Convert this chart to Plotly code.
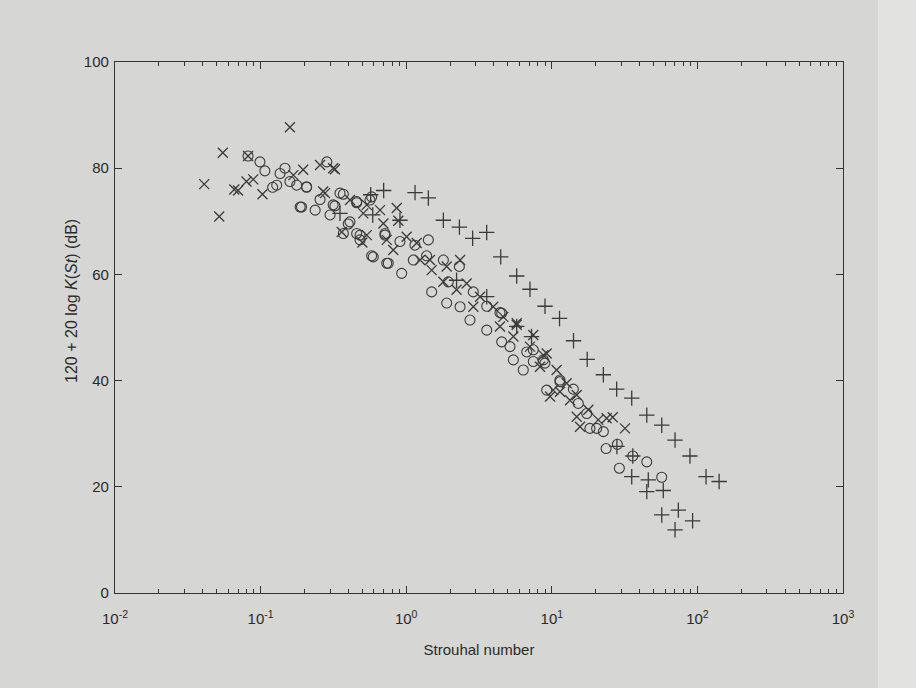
import plotly.graph_objects as go

# ---- data (Strouhal number, level in dB) ----
cross_st = [0.041, 0.055, 0.052, 0.066, 0.070, 0.080, 0.089, 0.103, 0.082, 0.159,
            0.196, 0.256, 0.324, 0.168, 0.269, 0.507, 0.50, 0.315, 0.277, 0.411,
            0.536, 0.661, 0.861, 0.883, 0.697, 0.361, 0.536, 0.735, 1.007, 1.18,
            0.815, 1.245, 1.455, 1.897, 2.344, 1.496, 1.80, 2.218, 2.60, 3.214,
            2.89, 3.963, 4.645, 5.74, 4.406, 5.445, 7.46, 7.08, 9.226, 8.299,
            10.79, 12.65, 10.23, 14.83, 5.74, 8.75, 9.73, 11.38, 13.34, 15.63,
            17.82, 20.84, 23.82, 14.83, 26.2, 31.8]
cross_db = [77.0, 82.9, 70.9, 76.0, 75.8, 77.5, 77.9, 75.1, 82.3, 87.7,
            79.7, 80.6, 79.8, 78.7, 75.6, 71.5, 66.0, 80.0, 75.3, 74.0,
            73.1, 72.1, 72.5, 70.1, 69.6, 68.0, 67.4, 66.5, 67.1, 65.9,
            64.6, 62.7, 62.7, 61.5, 62.7, 60.8, 58.6, 57.1, 58.3, 55.8,
            53.9, 53.9, 52.0, 50.8, 50.2, 48.3, 48.6, 46.4, 45.1, 42.6,
            42.0, 39.5, 38.2, 37.3, 50.5, 44.8, 37.0, 37.9, 36.3, 31.3,
            34.5, 32.6, 32.9, 33.2, 33.1, 31.0]

circle_st = [0.082, 0.099, 0.107, 0.121, 0.136, 0.147, 0.129, 0.159, 0.177, 0.207,
             0.187, 0.285, 0.256, 0.324, 0.30, 0.37, 0.457, 0.579, 0.40, 0.37,
             0.457, 0.715, 0.594, 0.735, 0.482, 0.191, 0.237, 0.207, 0.351, 0.315,
             0.457, 0.411, 0.564, 0.482, 0.579, 0.715, 0.753, 0.906, 1.148, 1.419,
             0.931, 1.119, 1.38, 1.80, 2.317, 1.496, 1.897, 1.945, 2.89, 2.344,
             3.573, 2.742, 4.406, 3.573, 4.529, 5.445, 6.368, 7.464, 8.974, 9.226,
             14.06, 11.38, 4.529, 5.164, 6.73, 7.464, 8.75, 11.38, 15.2, 17.38,
             20.32, 22.6, 18.28, 23.6, 28.2, 29.1, 36.0, 44.9, 56.9]
circle_db = [82.3, 81.2, 79.5, 76.4, 79.0, 80.0, 76.8, 77.5, 76.8, 76.4,
             72.7, 81.2, 74.1, 72.9, 71.2, 75.1, 73.5, 74.6, 69.5, 67.7,
             67.7, 67.4, 63.3, 62.1, 66.5, 72.7, 72.1, 76.5, 75.3, 73.1,
             73.7, 69.9, 74.0, 67.4, 63.5, 67.7, 62.1, 66.2, 65.5, 66.5,
             60.2, 62.7, 63.5, 62.7, 61.5, 56.7, 54.6, 58.6, 56.7, 53.9,
             54.0, 51.4, 52.8, 49.5, 47.3, 43.9, 42.0, 45.8, 43.3, 38.2,
             38.4, 40.1, 52.7, 46.4, 45.4, 43.6, 43.9, 39.8, 35.7, 33.8,
             31.0, 30.4, 31.0, 27.2, 28.0, 23.5, 25.8, 24.7, 21.8]

plus_st = [0.57, 0.70, 0.589, 0.351, 1.15, 1.42, 1.80, 2.32, 2.86, 3.57,
           4.46, 5.74, 7.08, 8.98, 11.3, 14.1, 17.5, 22.6, 27.9, 35.4,
           44.9, 56.9, 70.2, 88.9, 114.6, 141.0, 0.906, 2.218, 3.573, 5.74,
           7.26, 28.0, 36.0, 35.4, 46.0, 44.9, 58.3, 74.0, 56.9, 92.7, 70.2]
plus_db = [75.0, 75.8, 71.2, 71.5, 75.4, 74.4, 70.2, 68.9, 66.8, 67.9,
           63.3, 59.7, 57.2, 54.0, 51.7, 47.5, 44.0, 41.1, 38.4, 36.7,
           33.5, 31.6, 28.8, 25.8, 21.9, 21.0, 70.2, 58.9, 55.8, 50.2,
           48.3, 27.6, 25.8, 21.9, 21.3, 19.1, 19.3, 15.6, 14.7, 13.6, 11.9]

x_tickvals = [0.01, 0.1, 1, 10, 100, 1000]
x_ticktext = ["10<sup>-2</sup>", "10<sup>-1</sup>", "10<sup>0</sup>",
              "10<sup>1</sup>", "10<sup>2</sup>", "10<sup>3</sup>"]
y_tickvals = [0, 20, 40, 60, 80, 100]

ink = "#3a3a3a"
paper = "#d6d6d4"

fig = go.Figure()
fig.add_trace(go.Scatter(x=cross_st, y=cross_db, mode="markers", name="x",
                         marker=dict(symbol="x-thin", size=10, color=ink,
                                     line=dict(width=1.3, color=ink))))
fig.add_trace(go.Scatter(x=circle_st, y=circle_db, mode="markers", name="o",
                         marker=dict(symbol="circle-open", size=10, color=ink,
                                     line=dict(width=1.1, color=ink))))
fig.add_trace(go.Scatter(x=plus_st, y=plus_db, mode="markers", name="+",
                         marker=dict(symbol="cross-thin", size=11, color=ink,
                                     line=dict(width=1.3, color=ink))))

fig.update_layout(
    width=916, height=688,
    margin=dict(l=115, r=73, t=62, b=95),
    paper_bgcolor=paper, plot_bgcolor=paper,
    showlegend=False,
    font=dict(family="Liberation Sans, Arial, sans-serif", size=15, color="#2a2a2a"),
    shapes=[dict(type="rect", xref="paper", yref="paper",
                 x0=(878 - 115) / 728, x1=(916 - 115) / 728, y0=-95 / 531, y1=(688 - 95) / 531,
                 fillcolor="#e2e2e0", line=dict(width=0), layer="below")],
    annotations=[dict(text="120 + 20 log <i>K</i>(<i>St</i>) (dB)", textangle=-90,
                      xref="paper", yref="y", x=(72 - 115) / 728, y=55,
                      showarrow=False, font=dict(size=16, color="#2a2a2a"),
                      xanchor="center", yanchor="middle")],
)
fig.update_xaxes(type="log", range=[-2, 3], tickvals=x_tickvals, ticktext=x_ticktext,
                 ticks="inside", ticklen=7, tickwidth=1, tickcolor="#333",
                 showline=True, linecolor="#333", linewidth=1.3, mirror="ticks",
                 showgrid=False, zeroline=False, ticklabelstandoff=12,
                 minor=dict(ticks="inside", ticklen=4, tickcolor="#333", dtick="D1", showgrid=False),
                 title=dict(text="Strouhal number", font=dict(size=15), standoff=18))
fig.update_yaxes(range=[0, 100], tickvals=y_tickvals,
                 ticks="inside", ticklen=7, tickwidth=1, tickcolor="#333",
                 showline=True, linecolor="#333", linewidth=1.3, mirror="ticks",
                 showgrid=False, zeroline=False, ticklabelstandoff=2)

fig.write_html("out.html", config={"displayModeBar": False},
               post_script="document.body.style.margin='0';document.body.style.background='%s';" % paper)
